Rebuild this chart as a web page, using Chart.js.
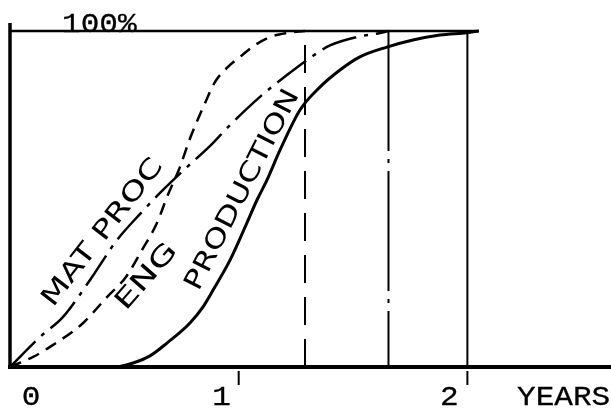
<!DOCTYPE html>
<html>
<head>
<meta charset="utf-8">
<script src="https://cdn.jsdelivr.net/npm/chart.js@4"></script>
<style>
  html, body { margin: 0; padding: 0; background: #fff; }
</style>
</head>
<body>
<canvas id="myChart" width="611" height="412"></canvas>
<script>
// x = years, y = percent complete
var engX  = [0, 0.101, 0.175, 0.315, 0.424, 0.507, 0.577, 0.643, 0.686, 0.743, 0.787, 0.853, 0.896, 0.953, 1.006, 1.071, 1.137, 1.211, 1.29];
var engY  = [0, 3.0, 6.0, 12.8, 20.8, 26.8, 34.8, 42.9, 50.5, 59.5, 68.0, 78.6, 84.8, 89.3, 92.3, 95.8, 98.2, 99.4, 100];

var matX  = [0, 0.131, 0.232, 0.350, 0.468, 0.568, 0.669, 0.774, 0.875, 0.962, 1.093, 1.211, 1.312, 1.399, 1.517, 1.618, 1.655];
var matY  = [0, 8.9, 14.9, 25.9, 37.8, 45.5, 52.7, 59.5, 65.8, 72.0, 80.4, 86.9, 92.0, 95.7, 98.2, 99.4, 100];

var prodX = [0, 0.46, 0.538, 0.612, 0.686, 0.787, 0.844, 0.888, 0.962, 1.036, 1.080, 1.124, 1.181, 1.268, 1.355, 1.443, 1.530, 1.648, 1.762, 1.880, 1.998, 2.05];
var prodY = [0, 0, 1.2, 3.3, 7.1, 13.1, 17.9, 22.9, 31.8, 42.9, 49.7, 55.7, 64.6, 76.5, 83.3, 88.4, 92.3, 95.2, 97.3, 98.8, 99.5, 100];

// year each activity is complete (vertical markers)
var engDone = 1.29, matDone = 1.655, prodDone = 2.0;
var topLineEnd = 2.05;

var tickValues = [0, 1, 2];
var tickLabels = ['0', '1', '2'];
var axisTitle = 'YEARS';
var topLabel = '100%';
var curveLabels = ['MAT PROC', 'ENG', 'PRODUCTION'];

function pts(xs, ys) {
  return xs.map(function (x, i) { return { x: x, y: ys[i] }; });
}

var labelsPlugin = {
  id: 'handLabels',
  afterDatasetsDraw: function (chart) {
    var ctx = chart.ctx;
    var xs = chart.scales.x, ys = chart.scales.y;
    var x0 = xs.getPixelForValue(0), y0 = ys.getPixelForValue(0);
    ctx.save();
    ctx.strokeStyle = '#000';
    ctx.lineCap = 'butt';

    // axes
    ctx.lineWidth = 4;
    ctx.beginPath();
    ctx.moveTo(x0 - 2, y0);
    ctx.lineTo(chart.width, y0);
    ctx.stroke();
    ctx.lineWidth = 3.5;
    ctx.beginPath();
    ctx.moveTo(x0, chart.chartArea.top);
    ctx.lineTo(x0, y0);
    ctx.stroke();

    // tick marks at 1 and 2
    ctx.lineWidth = 2;
    [1, 2].forEach(function (v) {
      var px = xs.getPixelForValue(v);
      ctx.beginPath();
      ctx.moveTo(px, y0 + 4);
      ctx.lineTo(px, y0 + 18);
      ctx.stroke();
    });

    // typewriter labels
    ctx.fillStyle = '#000';
    ctx.font = '27px "Liberation Mono", "DejaVu Sans Mono", monospace';
    ctx.textBaseline = 'alphabetic';
    ctx.lineWidth = 0.3;
    function typed(text, x, y, align) {
      ctx.save();
      ctx.translate(x, y);
      ctx.scale(1.15, 1);
      ctx.textAlign = align;
      ctx.fillText(text, 0, 0);
      ctx.strokeText(text, 0, 0);
      ctx.restore();
    }
    var shift = [21, -17, -18];
    tickValues.forEach(function (v, i) {
      typed(tickLabels[i], xs.getPixelForValue(v) + shift[i], 405, 'center');
    });
    typed(axisTitle, 517, 405, 'left');
    typed(topLabel, 62, ys.getPixelForValue(100) + 1, 'left');

    // handwritten curve labels
    ctx.font = '26px "DejaVu Sans", sans-serif';
    function hand(text, cx, cy, deg, len) {
      ctx.save();
      ctx.translate(cx, cy);
      ctx.rotate(-deg * Math.PI / 180);
      var w = ctx.measureText(text).width;
      ctx.scale(len / w, 1);
      ctx.textAlign = 'center';
      ctx.textBaseline = 'middle';
      ctx.fillText(text, 0, 0);
      ctx.restore();
    }
    hand(curveLabels[0], 103, 233, 52, 180);
    hand(curveLabels[1], 147, 277, 49, 80);
    hand(curveLabels[2], 243, 190, 63, 222);
    ctx.restore();
  }
};

var ctx = document.getElementById('myChart').getContext('2d');
var chart = new Chart(ctx, {
  type: 'line',
  data: {
    datasets: [
      {
        label: 'ENG',
        data: pts(engX, engY),
        borderColor: '#000',
        borderWidth: 2.5,
        borderDash: [12, 8],
        cubicInterpolationMode: 'monotone'
      },
      {
        label: 'MAT PROC',
        data: pts(matX, matY),
        borderColor: '#000',
        borderWidth: 2.5,
        borderDash: [36, 8, 4, 8],
        cubicInterpolationMode: 'monotone'
      },
      {
        label: 'PRODUCTION',
        data: pts(prodX, prodY),
        borderColor: '#000',
        borderWidth: 3,
        cubicInterpolationMode: 'monotone'
      },
      {
        label: '100%',
        data: [{ x: 0, y: 100 }, { x: topLineEnd, y: 100 }],
        borderColor: '#000',
        borderWidth: 2.5
      },
      {
        label: 'ENG done',
        data: [{ x: engDone, y: 0 }, { x: engDone, y: 100 }],
        borderColor: '#000',
        borderWidth: 2,
        borderDash: [28, 14]
      },
      {
        label: 'MAT PROC done',
        data: [{ x: matDone, y: 100 }, { x: matDone, y: 0 }],
        borderColor: '#000',
        borderWidth: 2,
        borderDash: [120, 8, 4, 8]
      },
      {
        label: 'PRODUCTION done',
        data: [{ x: prodDone, y: 0 }, { x: prodDone, y: 100 }],
        borderColor: '#000',
        borderWidth: 2
      }
    ]
  },
  options: {
    responsive: false,
    animation: false,
    devicePixelRatio: 1,
    clip: false,
    layout: { padding: { left: 10, right: 0, top: 23, bottom: 45 } },
    elements: { point: { radius: 0 } },
    plugins: { legend: { display: false }, tooltip: { enabled: false } },
    scales: {
      x: { type: 'linear', min: 0, max: 2.628, display: false },
      y: { min: 0, max: 102.38, display: false }
    }
  },
  plugins: [labelsPlugin]
});
</script>
</body>
</html>
